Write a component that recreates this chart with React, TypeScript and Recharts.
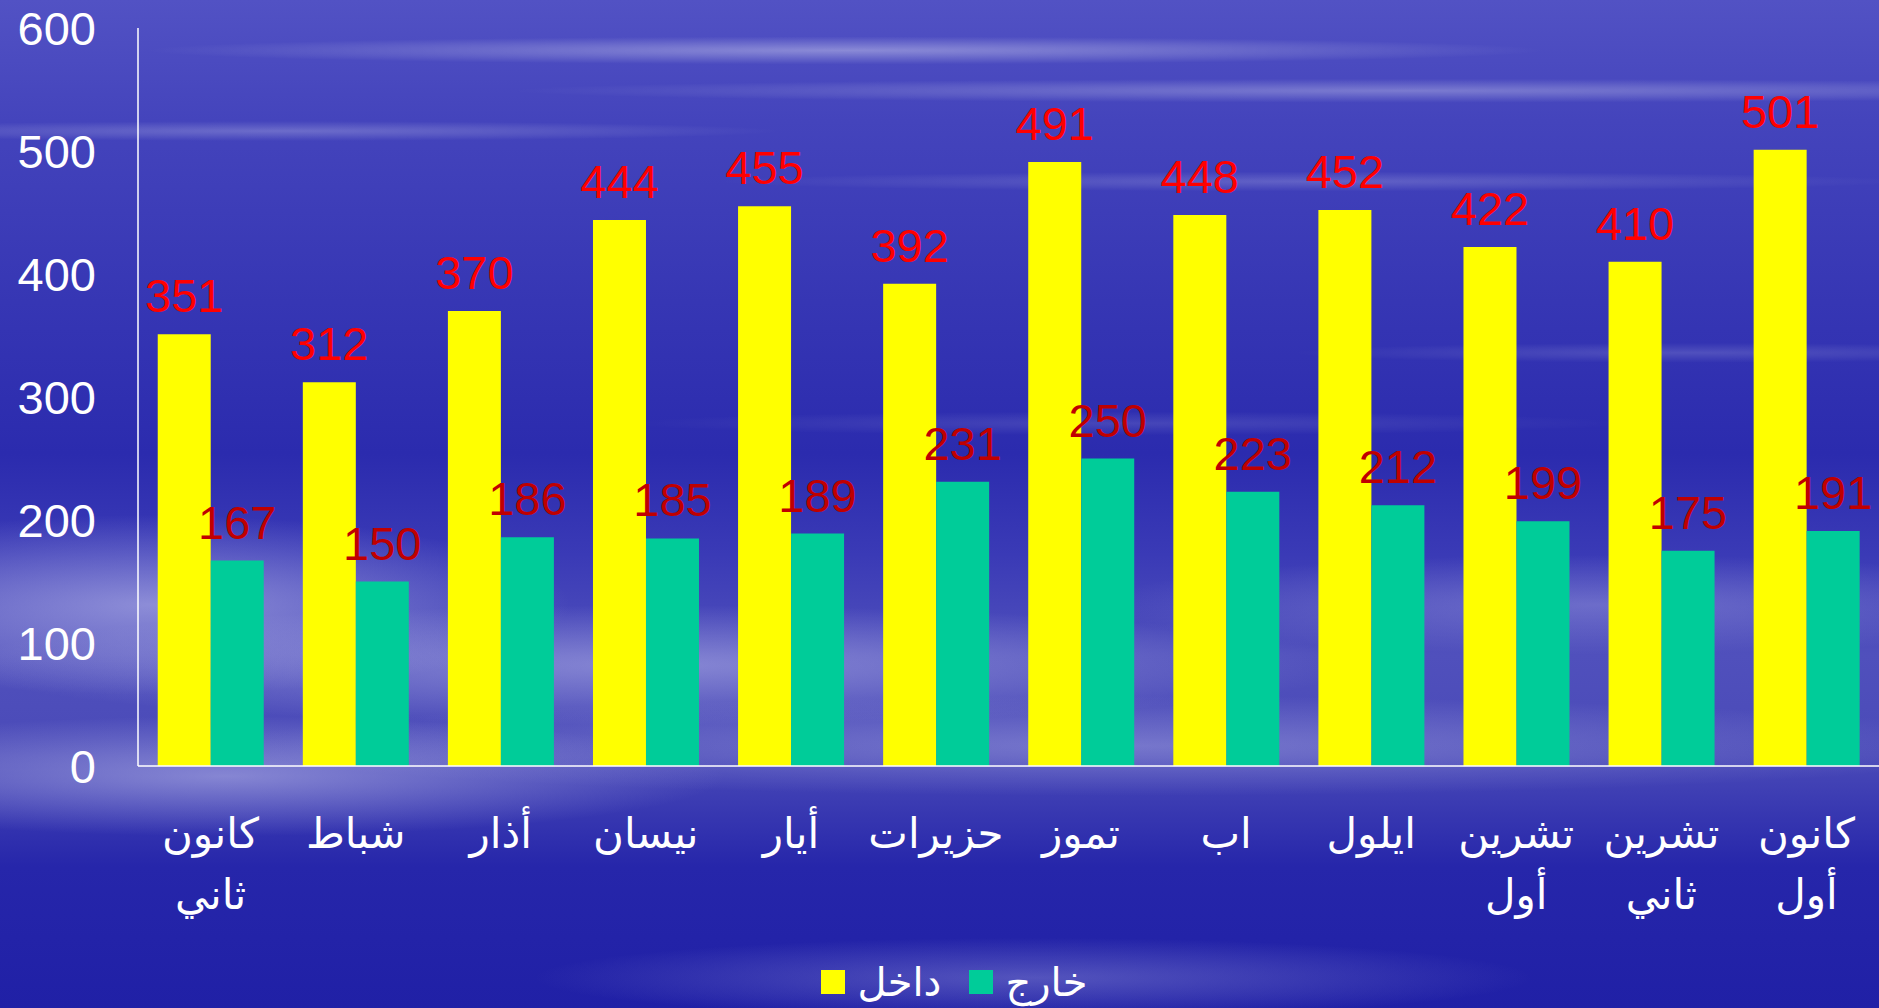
import React from "react";
import { BarChart, Bar, XAxis, YAxis, Legend, LabelList } from "recharts";

const months = [
  "كانون ثاني",
  "شباط",
  "أذار",
  "نيسان",
  "أيار",
  "حزيرات",
  "تموز",
  "اب",
  "ايلول",
  "تشرين أول",
  "تشرين ثاني",
  "كانون أول",
];
const inside = [351, 312, 370, 444, 455, 392, 491, 448, 452, 422, 410, 501];
const outside = [167, 150, 186, 185, 189, 231, 250, 223, 212, 199, 175, 191];
const yTicks = [0, 100, 200, 300, 400, 500, 600];

const rows = months.map((m, i) => ({ month: m, inside: inside[i], outside: outside[i] }));

const FONT = "'Liberation Sans', Arial, 'DejaVu Sans', sans-serif";

// cloudy blue backdrop, roughly like the slide template
const BG = [
  "radial-gradient(ellipse 700px 14px at 45% 5%, rgba(255,255,255,0.35), transparent)",
  "radial-gradient(ellipse 900px 12px at 75% 9%, rgba(255,255,255,0.28), transparent)",
  "radial-gradient(ellipse 500px 10px at 15% 13%, rgba(255,255,255,0.22), transparent)",
  "radial-gradient(ellipse 600px 10px at 70% 18%, rgba(255,255,255,0.18), transparent)",
  "radial-gradient(ellipse 400px 10px at 90% 35%, rgba(255,255,255,0.15), transparent)",
  "radial-gradient(ellipse 500px 12px at 60% 42%, rgba(255,255,255,0.12), transparent)",
  "radial-gradient(ellipse 420px 90px at 8% 60%, rgba(200,200,240,0.55), transparent)",
  "radial-gradient(ellipse 500px 60px at 12% 77%, rgba(200,200,240,0.5), transparent)",
  "radial-gradient(ellipse 700px 60px at 35% 66%, rgba(200,200,240,0.45), transparent)",
  "radial-gradient(ellipse 900px 50px at 60% 74%, rgba(200,200,240,0.35), transparent)",
  "radial-gradient(ellipse 500px 50px at 85% 60%, rgba(200,200,240,0.3), transparent)",
  "radial-gradient(ellipse 500px 40px at 55% 97%, rgba(200,200,240,0.3), transparent)",
  "linear-gradient(180deg, #5252c4 0%, #4444bc 12%, #3636b4 30%, #2b2bae 45%, #3a3ab6 55%, #5050bc 65%, #4a4ab8 75%, #2626aa 86%, #2020a6 100%)",
].join(",");

const MonthTick = (props: any) => {
  const { x, y, payload } = props;
  const lines = String(payload.value).split(" ");
  return (
    <g transform={`translate(${x},${y})`}>
      <text textAnchor="middle" fill="#ffffff" fontSize={42} fontFamily={FONT}>
        {lines.map((l, i) => (
          <tspan key={i} x={0} y={80 + i * 61}>
            {l}
          </tspan>
        ))}
      </text>
    </g>
  );
};

const LegendBox = () => (
  <div
    style={{
      display: "flex",
      justifyContent: "center",
      alignItems: "center",
      height: 52,
      paddingLeft: 30,
      color: "#fff",
      fontFamily: FONT,
      fontSize: 40,
    }}
  >
    <span style={{ width: 24, height: 24, background: "#FFFF00", marginRight: 12 }} />
    <span style={{ marginRight: 28 }}>داخل</span>
    <span style={{ width: 24, height: 24, background: "#00CC99", marginRight: 12 }} />
    <span>خارج</span>
  </div>
);

export default function App() {
  return (
    <div style={{ position: "absolute", left: 0, top: 0, width: 1879, height: 1008, background: BG, overflow: "hidden" }}>
      <BarChart
        width={1879}
        height={1008}
        data={rows}
        margin={{ top: 28, right: 0, left: 0, bottom: 0 }}
        barCategoryGap="13.6%"
        barGap={0}
      >
        <XAxis
          dataKey="month"
          axisLine={{ stroke: "#ffffff", strokeWidth: 1.5 }}
          tickLine={false}
          tickSize={0}
          tickMargin={2}
          height={190}
          interval={0}
          tick={<MonthTick />}
        />
        <YAxis
          domain={[0, 600]}
          ticks={yTicks}
          width={138}
          axisLine={{ stroke: "#ffffff", strokeWidth: 1.5 }}
          tickLine={false}
          tickMargin={36}
          tick={{ fill: "#ffffff", fontSize: 47, fontFamily: FONT }}
        />
        <Legend
          verticalAlign="bottom"
          content={<LegendBox />}
          wrapperStyle={{ left: 0, width: 1879, bottom: 0 }}
        />
        <Bar dataKey="inside" name="داخل" fill="#FFFF00" isAnimationActive={false}>
          <LabelList dataKey="inside" position="top" offset={22} fill="#FF0000" fontSize={47} fontFamily={FONT} />
        </Bar>
        <Bar dataKey="outside" name="خارج" fill="#00CC99" isAnimationActive={false}>
          <LabelList dataKey="outside" position="top" offset={22} fill="#C00000" fontSize={47} fontFamily={FONT} />
        </Bar>
      </BarChart>
    </div>
  );
}
